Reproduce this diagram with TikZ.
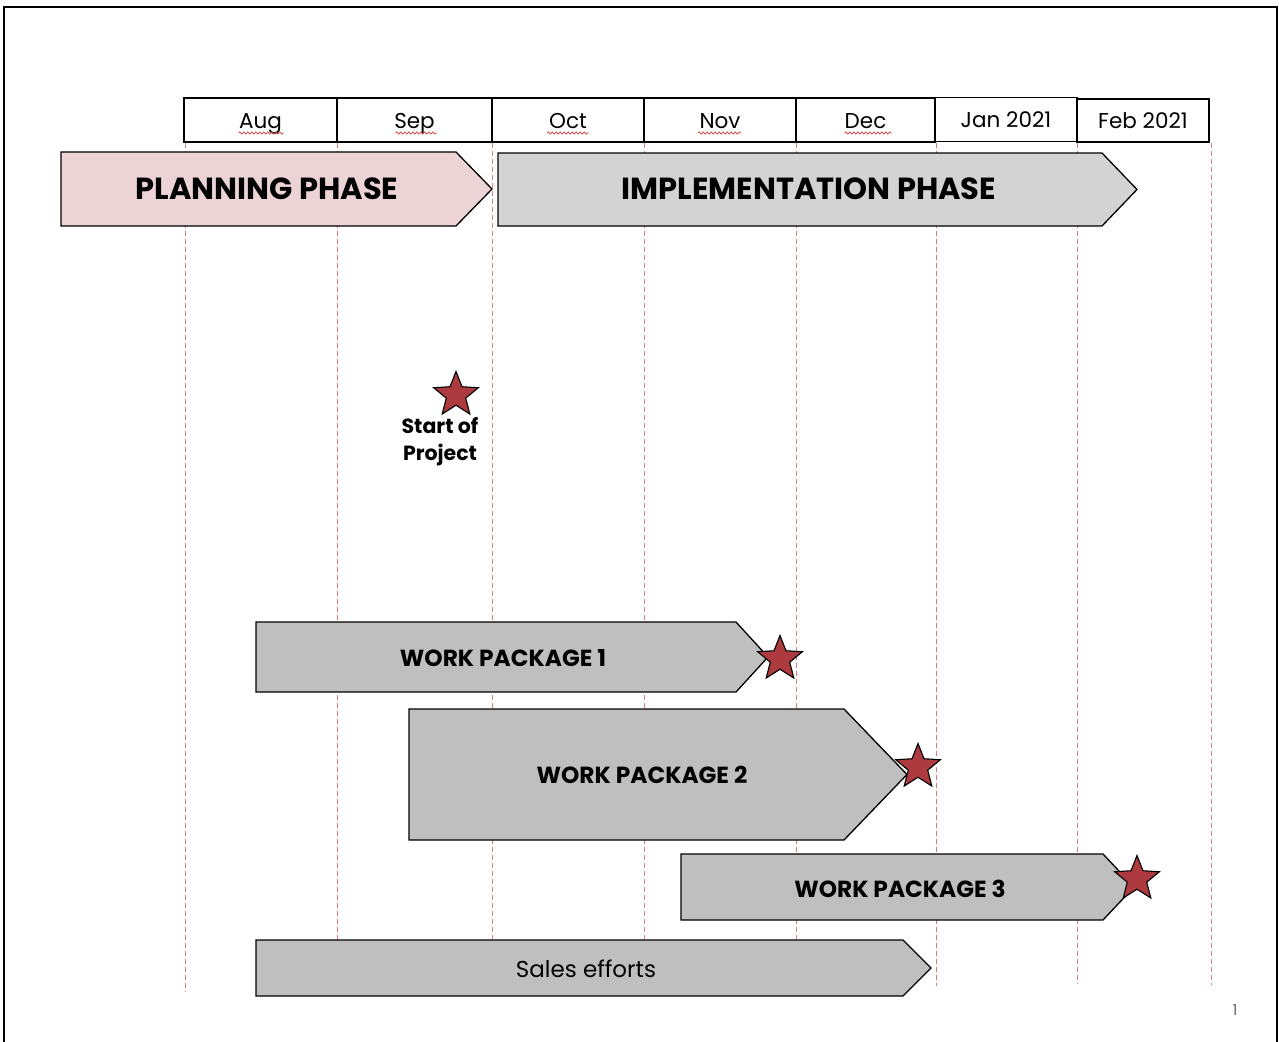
\documentclass[tikz,border=0pt]{standalone}
\usepackage{fontspec}
\setmainfont{Poppins}
\usetikzlibrary{shapes.geometric,decorations.pathmorphing,calc}

\definecolor{guide}{RGB}{222,120,124}
\definecolor{planfill}{RGB}{236,211,213}
\definecolor{implfill}{RGB}{211,211,211}
\definecolor{wpfill}{RGB}{191,191,191}
\definecolor{starred}{RGB}{172,58,62}
\definecolor{spell}{RGB}{214,64,64}

\tikzset{
  monthcell/.style={draw, line width=1.2pt, minimum height=44pt, inner sep=0pt,
    text height=20pt, text depth=4pt,
    font=\fontsize{21.5}{24}\selectfont},
  guideline/.style={draw=guide, line width=0.9pt, dash pattern=on 5pt off 3pt},
  phasebox/.style={draw, line width=1.3pt, line join=miter},
  phaselabel/.style={font=\fontsize{30.5}{34}\bfseries\selectfont, inner sep=0pt},
  wplabel/.style={font=\fontsize{23.3}{26}\bfseries\selectfont, inner sep=0pt},
  milestone/.style={star, star points=5, star point ratio=2.3, minimum size=47pt,
    inner sep=0pt, draw, line width=1.1pt, fill=starred},
  spellmark/.style={draw=spell, line width=0.7pt, decorate,
    decoration={snake, amplitude=1.1pt, segment length=4pt}},
}

\begin{document}
\begin{tikzpicture}[x=1pt, y=-1pt]
  \useasboundingbox (0,0) rectangle (1279,1041);
  \fill[white] (0,0) rectangle (1279,1041);

  % page frame
  \draw[line width=1.6pt] (4,1045) -- (4,7) -- (1277,7) -- (1277,1045);

  % dashed month guides
  \foreach \gx/\gy in {185/992, 337/988, 492/988, 644/988, 796/988, 936/986, 1077/984, 1211/985}
    \draw[guideline] (\gx,143) -- (\gx,\gy);

  % month header
  \node[monthcell, minimum width=153pt] (aug) at (260.5,120) {Aug};
  \node[monthcell, minimum width=155pt] (sep) at (414.5,120) {Sep};
  \node[monthcell, minimum width=152pt] (oct) at (568,120) {Oct};
  \node[monthcell, minimum width=152pt] (nov) at (720,120) {Nov};
  \node[monthcell, minimum width=139pt] (dec) at (865.5,120) {Dec};
  \node[monthcell, minimum width=142pt] (jan) at (1006,119.5) {Jan 2021};
  \node[monthcell, minimum width=132pt, minimum height=43pt] (feb) at (1143,120.5) {Feb 2021};

  % spelling marks under the month names
  \draw[spellmark] ($(aug.base)+(-22,5)$) -- ($(aug.base)+(23,5)$);
  \draw[spellmark] ($(sep.base)+(-19,5)$) -- ($(sep.base)+(22,5)$);
  \draw[spellmark] ($(oct.base)+(-21,5)$) -- ($(oct.base)+(21,5)$);
  \draw[spellmark] ($(nov.base)+(-22,5)$) -- ($(nov.base)+(21,5)$);
  \draw[spellmark] ($(dec.base)+(-21,5)$) -- ($(dec.base)+(26,5)$);

  % phases
  \draw[phasebox, fill=planfill] (61,152) -- (456,152) -- (492,189) -- (456,226) -- (61,226) -- cycle;
  \node[phaselabel] (plan) at (267,189) {PLANNING PHASE};
  \draw[phasebox, fill=implfill] (498,153) -- (1102,153) -- (1137,189.5) -- (1102,226) -- (498,226) -- cycle;
  \node[phaselabel] (impl) at (809,189) {IMPLEMENTATION PHASE};

  % project start
  \node[milestone] (start) at (456,395) {};
  \node[font=\fontsize{20.5}{27}\bfseries\selectfont, align=center, inner sep=0pt] (startlbl) at (440,442) {Start of\\Project};

  % work packages
  \draw[phasebox, fill=wpfill] (256,622) -- (736,622) -- (768,657) -- (736,692) -- (256,692) -- cycle;
  \node[wplabel] (wp1) at (503,658) {WORK PACKAGE 1};
  \draw[phasebox, fill=wpfill] (409,709) -- (844,709) -- (907,774.5) -- (844,840) -- (409,840) -- cycle;
  \node[wplabel] (wp2) at (642,775) {WORK PACKAGE 2};
  \draw[phasebox, fill=wpfill] (681,854) -- (1103,854) -- (1134,887) -- (1103,920) -- (681,920) -- cycle;
  \node[wplabel] (wp3) at (900,889) {WORK PACKAGE 3};
  \draw[phasebox, fill=wpfill] (256,940) -- (903,940) -- (931,968) -- (903,996) -- (256,996) -- cycle;
  \node[font=\fontsize{23}{27}\selectfont, inner sep=0pt] (sales) at (586,969) {Sales efforts};

  % milestones at package ends
  \node[milestone] (m1) at (780,659) {};
  \node[milestone] (m2) at (918,767) {};
  \node[milestone] (m3) at (1137,879) {};

  % page number
  \node[text=black!60, font=\fontsize{15}{18}\selectfont] (pageno) at (1235,1010) {1};
\end{tikzpicture}
\end{document}
